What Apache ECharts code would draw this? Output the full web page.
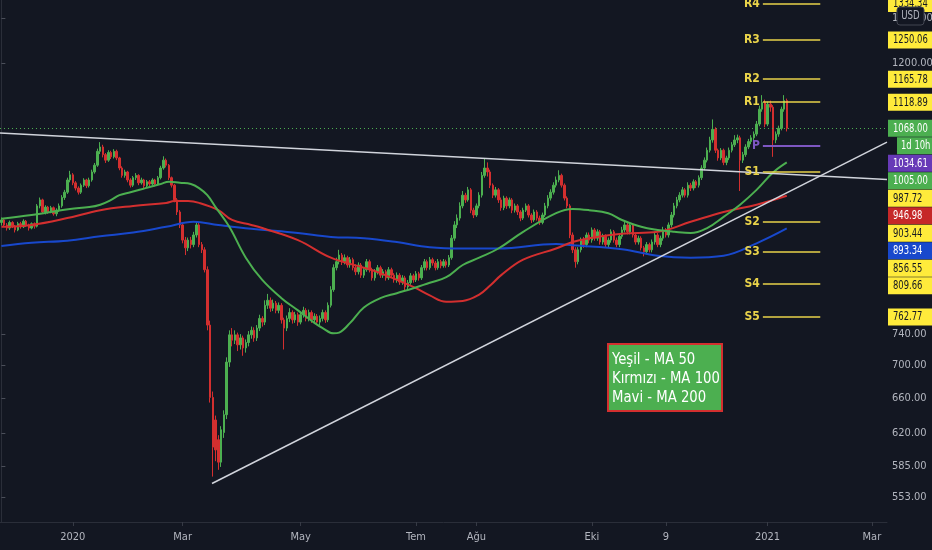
<!DOCTYPE html>
<html><head><meta charset="utf-8">
<script src="https://cdn.jsdelivr.net/npm/echarts@6/dist/echarts.min.js"></script>
<style>html,body{margin:0;padding:0;background:#131722;}#c{width:932px;height:550px;}</style>
</head><body><div id="c"></div><script>
const FONT = '"DejaVu Sans Condensed","Liberation Sans Narrow",sans-serif';

// ---- calendar (trading days) ----
const firstDay = '2019-11-22';
const categoryCount = 323;
const holidays = ['2019-11-28','2019-12-25','2020-01-01','2020-01-20','2020-02-17','2020-04-10','2020-05-25','2020-07-03','2020-09-07','2020-11-26','2020-12-25','2021-01-01','2021-01-18','2021-02-15','2021-04-02'];

// ---- x tick labels ----
const xTickDates  = ['2020-01-02','2020-03-02','2020-05-01','2020-07-01','2020-08-03','2020-10-01','2020-11-09','2021-01-04','2021-03-01'];
const xTickLabels = ['2020','Mar','May','Tem','Ağu','Eki','9','2021','Mar'];

// ---- y tick labels (log scale) ----
const yMin = 529.4, yMax = 1342.4;
const yTickValues = [1300, 1200, 740, 700, 660, 620, 585, 553];

// ---- candles [open, close, low, high] ----
const candles = [
[903,907,898,911],[907,899,896,910],[899,894,890,902],[894,903,891,906],[903,897,894,905],[897,891,887,899],[891,901,889,904],[901,896,893,904],[896,905,894,908],[905,899,896,907],
[899,894,890,901],[894,901,892,903],[901,897,893,903],[897,930,895,933],[930,940,926,944],[940,920,917,942],[920,928,916,931],[928,920,917,930],[920,927,918,930],[927,917,914,929],
[917,923,913,926],[923,930,920,934],[930,944,927,948],[944,953,940,957],[953,974,950,978],[974,983,970,990],[983,969,965,986],[969,960,956,972],[960,953,949,963],[953,965,950,968],
[965,974,962,977],[974,964,960,976],[964,974,961,978],[974,988,971,992],[988,1000,985,1004],[1000,1025,997,1030],[1025,1033,1020,1042],[1033,1019,1014,1037],[1019,1009,1004,1022],[1009,1023,1006,1027],
[1023,1015,1011,1026],[1015,1025,1012,1029],[1025,1013,1009,1028],[1013,995,991,1015],[995,982,978,998],[982,988,978,992],[988,974,970,990],[974,965,961,977],[965,978,962,981],[978,982,974,986],
[982,969,965,984],[969,974,966,978],[974,964,960,976],[964,971,961,974],[971,967,963,974],[967,974,964,977],[974,967,963,976],[967,978,965,981],[978,995,975,999],[995,1009,992,1016],
[1009,1000,996,1012],[1000,978,974,1002],[978,965,961,980],[965,940,936,967],[940,920,915,943],[920,899,894,923],[899,875,870,902],[875,863,852,880],[863,875,858,879],[875,868,862,880],
[868,883,864,888],[883,899,879,905],[899,868,864,902],[868,860,855,872],[860,830,826,864],[830,752,745,835],[752,661,655,758],[661,605,574,668],[635,602,590,640],[613,589,581,618],
[589,624,584,628],[621,641,615,646],[641,704,636,710],[704,739,698,745],[739,732,724,748],[732,739,727,745],[739,726,718,742],[726,735,720,740],[735,722,712,738],[722,729,716,733],
[729,739,724,744],[739,745,734,750],[745,735,730,749],[735,748,731,752],[748,761,744,766],[761,756,750,764],[756,779,752,786],[779,786,774,795],[786,775,770,790],[775,782,771,787],
[782,772,768,785],[772,779,768,783],[779,759,754,782],[759,748,720,762],[748,761,744,765],[761,769,756,775],[769,759,754,772],[759,766,755,770],[766,756,751,769],[756,766,753,770],
[766,772,762,777],[772,761,757,775],[761,769,757,773],[769,759,755,772],[759,764,755,768],[764,756,752,767],[756,761,752,765],[761,769,757,773],[769,759,755,772],[759,779,756,783],
[779,801,776,806],[801,833,798,838],[833,842,829,848],[842,852,838,860],[852,842,837,855],[842,848,838,853],[848,837,833,851],[837,845,833,849],[845,833,829,848],[833,827,822,838],
[827,837,823,841],[837,822,818,840],[822,830,818,834],[830,842,827,846],[842,830,826,845],[830,818,814,833],[818,827,814,831],[827,833,823,837],[833,822,818,836],[822,827,818,831],
[827,818,814,830],[818,830,815,834],[830,822,818,833],[822,815,811,825],[815,822,811,826],[822,812,808,825],[812,818,808,822],[818,805,800,821],[805,811,801,815],[811,821,808,825],
[821,815,811,824],[815,824,812,828],[824,818,814,827],[818,833,815,837],[833,842,829,846],[842,833,829,845],[833,845,830,849],[845,840,836,848],[840,833,829,843],[833,842,830,846],
[842,836,832,845],[836,842,833,846],[842,837,833,845],[837,848,834,852],[848,878,845,883],[878,899,874,905],[899,910,894,916],[910,930,906,936],[930,948,926,955],[948,940,935,952],
[940,957,937,962],[957,923,918,960],[923,915,910,927],[915,930,912,934],[930,948,926,953],[948,982,944,988],[982,995,978,1012],[995,988,980,1005],[988,965,960,992],[965,948,943,968],
[948,957,944,962],[957,940,935,960],[940,927,922,944],[927,943,923,947],[943,930,925,946],[930,940,926,944],[940,923,918,943],[923,930,919,934],[930,920,915,933],[920,910,905,923],
[910,923,907,927],[923,930,920,934],[930,915,911,933],[915,907,902,918],[907,920,904,924],[920,910,906,923],[910,903,899,914],[903,915,900,919],[915,930,912,935],[930,943,926,948],
[943,953,939,958],[953,965,949,970],[965,974,961,980],[974,982,970,991],[982,965,961,985],[965,943,939,968],[943,930,926,946],[930,883,878,933],[883,860,855,887],[860,842,833,864],
[842,860,838,864],[860,875,856,879],[875,868,863,880],[868,883,864,887],[883,875,870,887],[875,891,871,895],[891,878,874,894],[878,888,874,892],[888,872,868,891],[872,881,868,885],
[881,868,864,884],[868,875,864,879],[875,888,871,892],[888,875,871,891],[875,868,864,879],[868,881,864,885],[881,891,877,896],[891,899,887,904],[899,888,884,902],[888,899,884,903],
[899,883,879,902],[883,872,868,886],[872,878,868,882],[878,863,859,881],[863,857,850,866],[857,868,853,872],[868,860,856,871],[860,872,856,876],[872,883,868,888],[883,868,864,886],
[868,878,864,882],[878,891,874,896],[891,883,879,894],[883,899,879,903],[899,915,895,920],[915,930,911,935],[930,940,926,945],[940,948,936,953],[948,957,944,962],[957,948,944,960],
[948,965,944,970],[965,960,955,969],[960,971,956,975],[971,965,960,974],[965,978,961,982],[978,995,974,1000],[995,1009,991,1014],[1009,1027,1005,1032],[1027,1046,1023,1052],[1046,1066,1041,1085],
[1066,1027,1022,1070],[1027,1013,1008,1030],[1013,1027,1009,1031],[1027,1005,1000,1030],[1005,1013,1000,1017],[1013,1027,1009,1032],[1027,1037,1023,1042],[1037,1046,1033,1055],[1046,1050,1040,1056],[1050,1009,955,1054],
[1009,1019,1004,1024],[1019,1033,1015,1038],[1033,1043,1029,1048],[1043,1050,1038,1055],[1050,1057,1045,1062],[1057,1076,1053,1082],[1076,1105,1072,1112],[1105,1118,1100,1133],[1118,1076,1070,1124],[1076,1115,1072,1120],
[1115,1109,1100,1122],[1109,1046,1015,1113],[1046,1057,1040,1062],[1057,1068,1052,1073],[1068,1105,1064,1110],[1105,1122,1100,1133],[1122,1068,1062,1126]
];

// ---- moving averages [barIndex, value] ----
const ma50 = [[0,909],[11,915],[18,920],[25,925],[32,928],[36,932],[40,940],[43,948],[47,953],[51,958],[54,962],[58,967],[61,971],[65,969],[69,967],[72,960],[75,948],[78,928],[83,896],[89,848],[95,815],[102,789],[108,772],[114,755],[117,748],[121,741],[123,742],[127,755],[132,776],[138,789],[144,796],[150,803],[156,811],[162,819],[168,837],[174,848],[181,862],[190,888],[202,918],[208,925],[214,923],[221,918],[226,907],[233,896],[239,891],[245,888],[251,886],[257,894],[263,912],[269,932],[275,957],[281,987],[286,1005]];
const ma100 = [[0,896],[11,899],[24,910],[36,923],[48,930],[60,935],[63,938],[68,938],[72,935],[79,923],[84,907],[91,899],[95,894],[108,875],[120,848],[132,833],[138,825],[150,805],[156,793],[162,784],[168,785],[174,794],[178,807],[182,822],[190,845],[202,862],[208,872],[214,878],[226,885],[239,888],[251,904],[263,920],[275,932],[286,946.98]];
const ma200 = [[0,866],[11,871],[24,874],[36,881],[48,887],[60,896],[70,904],[79,899],[91,893],[108,886],[120,880],[132,878],[144,872],[156,864],[168,862],[181,862],[202,869],[208,867],[226,861],[239,851],[251,848],[263,851],[275,870],[286,893.34]];

// ---- drawn trend lines [barIndex, value] ----
const upperTrend = [[-0.5,1059],[322.5,975]];
const lowerTrend = [[76.7,567],[322.5,1042]];

// ---- pivot levels ----
const pivotNames  = ['R4','R3','R2','R1','P','S1','S2','S3','S4','S5'];
const pivotValues = [1334.34,1250.06,1165.78,1118.89,1034.61,987.72,903.44,856.55,809.66,762.77];
const pivotSpan = [277.3, 298.2];

// ---- price scale tags ----
const lastPrice = 1068.00;
const countdownText = '1d 10h';
const tagValues = [1334.34,1250.06,1165.78,1118.89,1068.00,1034.61,1005.00,987.72,946.98,903.44,893.34,856.55,809.66,762.77];
const tagColors = ['#ffeb3b','#ffeb3b','#ffeb3b','#ffeb3b','#4caf50','#673ab7','#4caf50','#ffeb3b','#c62828','#ffeb3b','#1848cc','#ffeb3b','#ffeb3b','#ffeb3b'];
const tagTextColors = ['#131722','#131722','#131722','#131722','#ffffff','#ffffff','#ffffff','#131722','#ffffff','#131722','#ffffff','#131722','#131722','#131722'];

// ---- legend note ----
const noteLines = ['Yeşil - MA 50','Kırmızı - MA 100','Mavi - MA 200'];

// build calendar
const dates = [];
(function(){
  let t = Date.UTC(2019,10,22);
  while (dates.length < categoryCount) {
    const d = new Date(t); const wd = d.getUTCDay(); const s = d.toISOString().slice(0,10);
    if (wd !== 0 && wd !== 6 && holidays.indexOf(s) < 0) dates.push(s);
    t += 86400000;
  }
})();
const labelMap = {}; xTickDates.forEach((d,i)=>labelMap[d]=xTickLabels[i]);

const YELLOW = '#e9d34a';
const pivotLineData = pivotNames.map((n,i)=>{
  const isP = n === 'P';
  const col = isP ? '#7e57c2' : YELLOW;
  return [
    {coord:[pivotSpan[0], pivotValues[i]], lineStyle:{color:col, width: isP?2:1.5, type:'solid'},
     label:{show:true, position:'start', formatter:n, color:col, fontFamily:FONT, fontSize:12, fontWeight:'bold', distance:3}},
    {coord:[pivotSpan[1], pivotValues[i]]}
  ];
});

const chart = echarts.init(document.getElementById('c'), null, {renderer:'canvas'});
const option = {
  backgroundColor:'#131722',
  animation:false,
  grid:{left:0, right:45, top:0, bottom:28, containLabel:false, outerBoundsMode:'none'},
  xAxis:[
    {type:'category', data:dates, boundaryGap:true,
     axisLine:{show:true, lineStyle:{color:'#2a2e39'}},
     axisTick:{show:true, alignWithLabel:true, length:4, lineStyle:{color:'#363a45'}, interval:(i,v)=>labelMap[v]!==undefined},
     axisLabel:{interval:(i,v)=>labelMap[v]!==undefined, formatter:v=>labelMap[v]||'', color:'#b2b5be', fontFamily:FONT, fontSize:11, margin:10},
     splitLine:{show:false}},
    {type:'value', min:-0.5, max:categoryCount-0.5, show:false}
  ],
  yAxis:[{type:'log', logBase:10, min:yMin, max:yMax, position:'right',
    axisLine:{show:true, lineStyle:{color:'#2a2e39'}},
    axisTick:{show:true, length:4, customValues:yTickValues, lineStyle:{color:'#4a4e59'}},
    axisLabel:{customValues:yTickValues, formatter:v=>Number(v).toFixed(2), color:'#b2b5be', fontFamily:FONT, fontSize:11, margin:5},
    splitLine:{show:false}}],
  series:[
    {type:'candlestick', name:'price', data:candles, barWidth:2, z:2,
     itemStyle:{color:'#4caf50', color0:'#d32f2f', borderColor:'#4caf50', borderColor0:'#d32f2f', borderWidth:1},
     markLine:{silent:true, symbol:['none','none'], label:{show:false},
       lineStyle:{color:'#4caf50', type:[1,3], width:1}, data:[{yAxis:lastPrice}]}},
    {type:'line', name:'MA 200', xAxisIndex:1, data:ma200, smooth:0.4, showSymbol:false, z:3, lineStyle:{color:'#1848cc', width:2}},
    {type:'line', name:'MA 100', xAxisIndex:1, data:ma100, smooth:0.4, showSymbol:false, z:3, lineStyle:{color:'#d32f2f', width:2}},
    {type:'line', name:'MA 50', xAxisIndex:1, data:ma50, smooth:0.4, showSymbol:false, z:3, lineStyle:{color:'#4caf50', width:2}},
    {type:'line', name:'trend1', xAxisIndex:1, data:upperTrend, showSymbol:false, z:4, lineStyle:{color:'#d1d4dc', width:1.5}},
    {type:'line', name:'trend2', xAxisIndex:1, data:lowerTrend, showSymbol:false, z:4, lineStyle:{color:'#d1d4dc', width:1.5}},
    {type:'line', name:'pivots', xAxisIndex:1, data:[], z:4,
     markLine:{silent:true, symbol:['none','none'], data:pivotLineData}}
  ]
};
chart.setOption(option);

// price-scale tags with simple collision stacking
const H = 17.5;
const items = [];
tagValues.forEach((v,i)=>{
  items.push({v, text:v.toFixed(2), bg:tagColors[i], fg:tagTextColors[i]});
  if (v === lastPrice) items.push({countdown:true, text:countdownText, bg:'#4caf50', fg:'#ffffff'});
});
let prev = -1e9;
const graphics = [];
items.forEach(it=>{
  let y = it.countdown ? prev + H : chart.convertToPixel({yAxisIndex:0}, it.v);
  y = Math.max(y, prev + H);
  prev = y;
  const x0 = it.countdown ? 897 : 888;
  graphics.push({type:'rect', z:100, shape:{x:x0, y:y-8.5, width:50, height:17}, style:{fill:it.bg}});
  graphics.push({type:'text', z:101, x:x0+(it.countdown?4:5), y:y, scaleX:0.72,
    style:{text:it.text, x:0, y:0, fill:it.fg, font:'13px '+FONT, verticalAlign:'middle', align:'left'}});
});
// USD badge
graphics.push({type:'rect', z:110, shape:{x:897, y:7, width:27, height:18, r:3}, style:{fill:'#131722', stroke:'#434651', lineWidth:1}});
graphics.push({type:'text', z:111, x:910.5, y:16, scaleX:0.8, style:{text:'USD', x:0, y:0, fill:'#b2b5be', font:'12px '+FONT, align:'center', verticalAlign:'middle'}});
// note box
graphics.push({type:'rect', z:90, shape:{x:608, y:344, width:114, height:67}, style:{fill:'#4caf50', stroke:'#d32f2f', lineWidth:2}});
noteLines.forEach((t,i)=>{
  graphics.push({type:'text', z:91, x:612, y:360+i*19, scaleX:0.92,
    style:{text:t, x:0, y:0, fill:'#ffffff', font:'16px '+FONT, verticalAlign:'middle'}});
});
chart.setOption({graphic:graphics});
</script></body></html>
